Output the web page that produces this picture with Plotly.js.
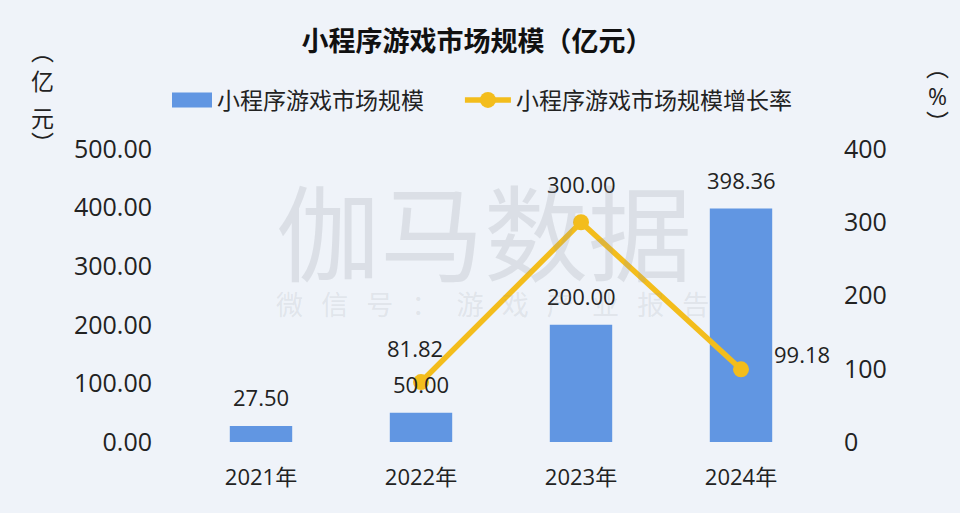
<!DOCTYPE html>
<html>
<head>
<meta charset="utf-8">
<script src="https://cdn.plot.ly/plotly-3.0.1.min.js"></script>
<style>html,body{margin:0;padding:0;background:#eff3f9;}</style>
</head>
<body>
<div id="chart" style="width:960px;height:513px;"></div>
<script>
const categories = ['2021年', '2022年', '2023年', '2024年'];
const marketSize = [27.50, 50.00, 200.00, 398.36];
const growthRate = [null, 81.82, 300.00, 99.18];
const leftTicks = [0, 100, 200, 300, 400, 500];
const rightTicks = [0, 100, 200, 300, 400];
const seriesNames = ['小程序游戏市场规模', '小程序游戏市场规模增长率'];

const FONT = '"Open Sans", "Noto Sans CJK SC", sans-serif';
const CJK = '"Noto Sans CJK SC", "Noto Sans", sans-serif';
const BAR = '#6196e2';
const LINE = '#f3bd1c';
const NB = '\u00a0';

const bars = {
  type: 'bar', name: seriesNames[0] + NB.repeat(6),
  x: categories, y: marketSize,
  marker: {color: BAR}, width: 0.39,
  hoverinfo: 'none'
};
const line = {
  type: 'scatter', mode: 'lines+markers', name: seriesNames[1],
  x: categories, y: growthRate, yaxis: 'y2',
  line: {color: LINE, width: 5.5},
  marker: {color: LINE, size: 16},
  hoverinfo: 'none'
};

// pixel -> paper helpers (plot area 181..821 x, 149..442 y)
const px = v => (v - 181) / 640;
const py = v => (442 - v) / 293;

const annotations = [];
marketSize.forEach((v, i) => {
  annotations.push({
    x: categories[i], y: v, xref: 'x', yref: 'y',
    text: v.toFixed(2), showarrow: false,
    yanchor: 'middle', yshift: 29,
    font: {family: FONT, size: 22, color: '#222'}
  });
});
const lineLabelShift = [null, {x: -6, y: 34, a: 'center'}, {x: 0, y: 38, a: 'center'}, {x: 31, y: 15, a: 'left'}];
growthRate.forEach((v, i) => {
  if (v === null) return;
  const s = lineLabelShift[i];
  annotations.push({
    x: categories[i], y: v, xref: 'x', yref: 'y2',
    text: v.toFixed(2), showarrow: false,
    xanchor: s.a, yanchor: 'middle', xshift: s.x, yshift: s.y,
    font: {family: FONT, size: 22, color: '#222'}
  });
});
// axis unit labels (stacked vertically)
[['︵', 42, 50], ['亿', 42, 80], ['元', 42, 117], ['︶', 42, 142],
 ['︵', 937, 66], ['%', 937, 96], ['︶', 937, 121]].forEach(([t, x, y]) => {
  annotations.push({
    xref: 'paper', yref: 'paper', x: px(x), y: py(y),
    text: t, showarrow: false, xanchor: 'center', yanchor: 'middle',
    font: {family: t === '%' ? FONT : CJK, size: 23, color: '#222'}
  });
});
// watermark
annotations.push({
  xref: 'paper', yref: 'paper', x: px(274), y: py(228),
  text: '伽马数据', showarrow: false, xanchor: 'left', yanchor: 'middle',
  font: {family: CJK, size: 104, color: 'rgba(150,155,165,0.22)'}
});
annotations.push({
  xref: 'paper', yref: 'paper', x: px(274), y: py(303),
  text: ['微', '信', '号', '：', '游', '戏', '产', '业', '报', '告'].join(NB + NB + NB),
  showarrow: false, xanchor: 'left', yanchor: 'middle',
  font: {family: CJK, size: 27, color: 'rgba(150,155,165,0.18)'}
});

const layout = {
  width: 960, height: 513,
  paper_bgcolor: '#eff3f9', plot_bgcolor: '#eff3f9',
  margin: {l: 181, r: 139, t: 149, b: 71},
  font: {family: FONT, color: '#222'},
  title: {
    text: '<b>小程序游戏市场规模（亿元）</b>',
    x: 0.497, xanchor: 'center', y: 1 - 42 / 513, yanchor: 'middle',
    font: {family: CJK, size: 27, color: '#111'}
  },
  showlegend: true,
  legend: {
    orientation: 'h', xref: 'container', yref: 'container',
    x: 161 / 960, xanchor: 'left', y: 1 - 100 / 513, yanchor: 'middle',
    font: {family: CJK, size: 23, color: '#222'},
    bgcolor: 'rgba(0,0,0,0)', itemwidth: 46, tracegroupgap: 0
  },
  xaxis: {
    type: 'category', range: [-0.5, categories.length - 0.5],
    showgrid: false, zeroline: false, showline: false,
    ticks: '', ticklabelstandoff: 20,
    tickfont: {family: FONT, size: 22, color: '#222'},
    fixedrange: true
  },
  yaxis: {
    range: [0, 500], tickvals: leftTicks, tickformat: '.2f',
    showgrid: false, zeroline: false, showline: false, ticks: '',
    ticklabelstandoff: 28, automargin: false,
    tickfont: {family: FONT, size: 25, color: '#222'}
  },
  yaxis2: {
    range: [0, 400], tickvals: rightTicks, overlaying: 'y', side: 'right',
    showgrid: false, zeroline: false, showline: false, ticks: '',
    ticklabelstandoff: 22, automargin: false,
    tickfont: {family: FONT, size: 25, color: '#222'}
  },
  annotations: annotations
};

const gdDiv = document.getElementById('chart');
function fixSwatch() {
  // widen the bar legend swatch to a flat rectangle like the reference
  const items = gdDiv.querySelectorAll('g.traces');
  if (items.length) {
    items[0].querySelectorAll('g.legendpoints path').forEach(p => {
      p.setAttribute('d', 'M-17,7.5H23V-7.5H-17Z');
    });
  }
}
Plotly.newPlot(gdDiv, [bars, line], layout, {displayModeBar: false, staticPlot: true}).then(gd => {
  fixSwatch();
  gd.on('plotly_afterplot', fixSwatch);
  setTimeout(fixSwatch, 0);
  setTimeout(fixSwatch, 100);
});
</script>
</body>
</html>
